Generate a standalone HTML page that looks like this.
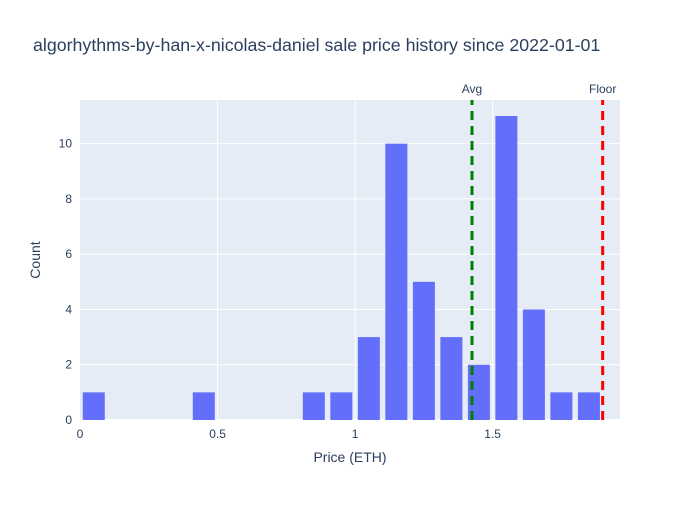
<!DOCTYPE html>
<html><head><meta charset="utf-8"><style>
body{margin:0;background:#fff;font-family:"Liberation Sans","Open Sans",sans-serif}
svg text{font-family:"Liberation Sans","Open Sans",sans-serif}
</style></head><body>
<svg id="chart" width="700" height="500">
<text x="33" y="51" font-size="17.8" fill="#2a3f5f">algorhythms-by-han-x-nicolas-daniel sale price history since 2022-01-01</text>
<rect x="80" y="100" width="540" height="320" fill="#e5ecf6"/>
<g id="grid"></g><g id="bars"></g><g id="lines"></g><g id="axes"></g>
<text x="350" y="462" font-size="14" fill="#2a3f5f" text-anchor="middle">Price (ETH)</text>
<text x="40" y="260" font-size="14" fill="#2a3f5f" text-anchor="middle" transform="rotate(-90 40 260)">Count</text>
</svg>
<script>
const binStarts=[0,0.1,0.2,0.3,0.4,0.5,0.6,0.7,0.8,0.9,1.0,1.1,1.2,1.3,1.4,1.5,1.6,1.7,1.8];
const counts=[1,0,0,0,1,0,0,0,1,1,3,10,5,3,2,11,4,1,1];
const binWidth=0.1;
const xTicks=[0,0.5,1,1.5];
const xTickLabels=["0","0.5","1","1.5"];
const yTicks=[0,2,4,6,8,10];
const avgPrice=1.425, floorPrice=1.9;
const X0=80,X1=620,Y0=420,Y1=100,xMax=1.963,yMax=11.58;
const xs=v=>X0+v/xMax*(X1-X0), ys=v=>Y0-v/yMax*(Y0-Y1);
const NS="http://www.w3.org/2000/svg";
function mk(p,t,a){const e=document.createElementNS(NS,t);for(const k in a)e.setAttribute(k,a[k]);document.getElementById(p).appendChild(e);return e;}
yTicks.forEach(v=>{
 if(v>0){const g=mk('grid','line',{x1:X0,x2:X1,y1:ys(v),y2:ys(v),stroke:'#fff','stroke-width':1});
 
 }
 const t=mk('axes','text',{x:X0-8,y:ys(v)+4,'font-size':12,fill:'#2a3f5f','text-anchor':'end'});t.textContent=v;
 
 
});
xTicks.forEach((v,i)=>{
 if(v>0){const g=mk('grid','line',{x1:xs(v),x2:xs(v),y1:Y1,y2:Y0,stroke:'#fff','stroke-width':1});
 
 }
 const t=mk('axes','text',{x:xs(v),y:Y0+18,'font-size':12,fill:'#2a3f5f','text-anchor':'middle'});t.textContent=xTickLabels[i];
 
 
});
const z=mk('grid','line',{x1:X0,x2:X1,y1:Y0,y2:Y0,stroke:'#fff','stroke-width':2});


binStarts.forEach((b,i)=>{
 if(!counts[i])return;
 const w=xs(binWidth)-xs(0),gap=w*0.1;
 const r=mk('bars','rect',{x:xs(b)+gap,y:ys(counts[i]),width:w-2*gap,height:Y0-ys(counts[i]),fill:'#636efa'});
 
 
});
[[avgPrice,'green','Avg'],[floorPrice,'red','Floor']].forEach(([v,c,l])=>{
 const ln=mk('lines','line',{x1:xs(v),x2:xs(v),y1:Y0,y2:Y1,stroke:c,'stroke-width':3,'stroke-dasharray':'9,6'});
 
 
 const t=mk('lines','text',{x:xs(v),y:Y1-7,'font-size':12,fill:'#2a3f5f','text-anchor':'middle'});t.textContent=l;
 
 
});
</script>
</body></html>
